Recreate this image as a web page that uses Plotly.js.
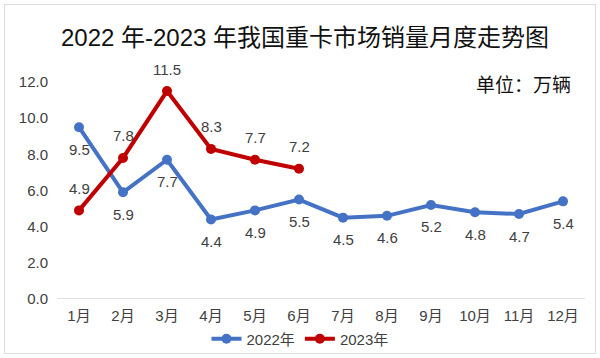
<!DOCTYPE html>
<html><head><meta charset="utf-8">
<script src="https://cdn.plot.ly/plotly-3.0.1.min.js"></script>
<style>body{margin:0;background:#fff}#c{width:600px;height:358px;position:relative}
#f{position:absolute;left:4px;top:4px;width:590px;height:348px;border:1px solid #dcdcdc;pointer-events:none}</style>
</head><body><div id="c"></div><div id="f"></div>
<script>
const months = ["1月","2月","3月","4月","5月","6月","7月","8月","9月","10月","11月","12月"];
const sales2022 = [9.5,5.9,7.7,4.4,4.9,5.5,4.5,4.6,5.2,4.8,4.7,5.4];
const months2023 = ["1月","2月","3月","4月","5月","6月"];
const sales2023 = [4.9,7.8,11.5,8.3,7.7,7.2];
const yTicks = [0,2,4,6,8,10,12];
const font = "'Liberation Sans', 'Noto Sans CJK SC', sans-serif";
const traces = [
 {x:months,y:sales2022,name:"2022年",type:"scatter",mode:"lines+markers",
  line:{color:"#4472C4",width:4},marker:{color:"#4472C4",size:10},cliponaxis:false},
 {x:months2023,y:sales2023,name:"2023年",type:"scatter",mode:"lines+markers",
  line:{color:"#C00000",width:4},marker:{color:"#C00000",size:10},cliponaxis:false}
];
const labelFont = {size:15,color:"#404040",family:font};
const anns = [];
months.forEach((m,i)=>anns.push({x:m,y:sales2022[i],text:sales2022[i].toFixed(1),showarrow:false,yshift:-22,font:labelFont,xref:"x",yref:"y"}));
months2023.forEach((m,i)=>anns.push({x:m,y:sales2023[i],text:sales2023[i].toFixed(1),showarrow:false,yshift:22,font:labelFont,xref:"x",yref:"y"}));
anns.push({text:"单位：万辆",xref:"paper",yref:"paper",x:0.977,xanchor:"right",y:0.986,yanchor:"middle",showarrow:false,font:{size:19,color:"#111",family:font}});
const layout = {
 width:600,height:358,margin:{l:57,r:15,t:82,b:59},
 paper_bgcolor:"#fff",plot_bgcolor:"#fff",
 font:{family:font,color:"#404040",size:15},
 title:{text:"2022 年-2023 年我国重卡市场销量月度走势图",font:{size:24,color:"#111",family:font},xref:"container",yref:"container",x:305/600,xanchor:"center",y:1-38/358,yanchor:"middle"},
 xaxis:{type:"category",categoryarray:months,range:[-0.5,11.5],autorange:false,showgrid:false,showline:false,zeroline:false,ticks:"",tickfont:{size:15,color:"#404040"},automargin:false,ticklabelstandoff:6},
 yaxis:{range:[0,12],autorange:false,tickvals:yTicks,ticktext:yTicks.map(v=>v.toFixed(1)),showgrid:false,zeroline:false,showline:false,tickfont:{size:15,color:"#404040"},ticks:"",ticklabelstandoff:8,automargin:false},
 shapes:[{type:"line",xref:"paper",x0:0,x1:1,yref:"y",y0:0,y1:0,line:{color:"#d9d9d9",width:1.5},layer:"below"}],
 showlegend:true,
 legend:{orientation:"h",xref:"container",yref:"container",x:0.5,xanchor:"center",y:1-339/358,yanchor:"middle",font:{size:15,color:"#404040"},tracegroupgap:0},
 annotations:anns
};
Plotly.newPlot("c",traces,layout,{displayModeBar:false,staticPlot:true});
</script></body></html>
